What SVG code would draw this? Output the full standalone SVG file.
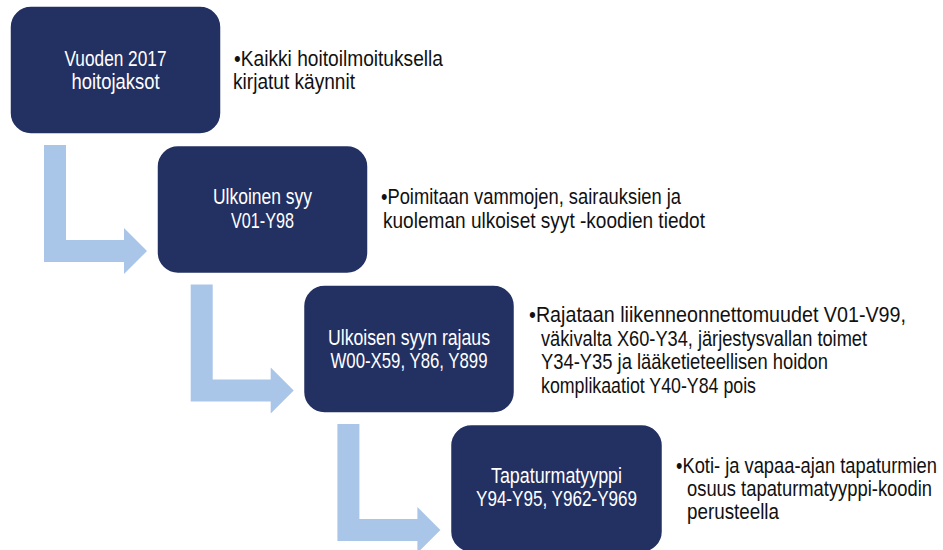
<svg xmlns="http://www.w3.org/2000/svg" width="943" height="550" viewBox="0 0 943 550">
<defs>
<style>
.box{fill:#233062;stroke:#ffffff;stroke-width:1.5}
.arr{fill:#A9C5E8}
text{font-family:"Liberation Sans",Arial,sans-serif;font-size:22.5px}
.bt{fill:#ffffff;text-anchor:middle}
.rt{fill:#111111}
</style>
<path id="arrowShape" d="M44,145 H66 V240 H124 V228 L147,251 L124,274 V262 H44 Z"/>
</defs>
<g id="connectors">
<use href="#arrowShape" class="arr"/>
<use href="#arrowShape" class="arr" transform="translate(146.7,139.5)"/>
<use href="#arrowShape" class="arr" transform="translate(293.4,279)"/>
</g>
<g id="node1">
<rect class="box" x="10" y="6" width="211" height="128" rx="21"/>
<text class="bt" x="115.5" y="66" textLength="102" lengthAdjust="spacingAndGlyphs">Vuoden 2017</text>
<text class="bt" x="115.5" y="89" textLength="88" lengthAdjust="spacingAndGlyphs">hoitojaksot</text>
</g>
<g id="note1">
<text class="rt" x="234" y="66" textLength="209" lengthAdjust="spacingAndGlyphs">•Kaikki hoitoilmoituksella</text>
<text class="rt" x="233" y="89" textLength="122" lengthAdjust="spacingAndGlyphs">kirjatut käynnit</text>
</g>
<g id="node2">
<rect class="box" x="157" y="145.5" width="211" height="128" rx="21"/>
<text class="bt" x="262.5" y="204" textLength="99" lengthAdjust="spacingAndGlyphs">Ulkoinen syy</text>
<text class="bt" x="262.5" y="228" textLength="63" lengthAdjust="spacingAndGlyphs">V01-Y98</text>
</g>
<g id="note2">
<text class="rt" x="381" y="204" textLength="300" lengthAdjust="spacingAndGlyphs">•Poimitaan vammojen, sairauksien ja</text>
<text class="rt" x="383" y="228" textLength="322" lengthAdjust="spacingAndGlyphs">kuoleman ulkoiset syyt -koodien tiedot</text>
</g>
<g id="node3">
<rect class="box" x="303.5" y="285" width="211" height="128" rx="21"/>
<text class="bt" x="409" y="345" textLength="162" lengthAdjust="spacingAndGlyphs">Ulkoisen syyn rajaus</text>
<text class="bt" x="409" y="368" textLength="157" lengthAdjust="spacingAndGlyphs">W00-X59, Y86, Y899</text>
</g>
<g id="note3">
<text class="rt" x="529" y="322" textLength="377" lengthAdjust="spacingAndGlyphs">•Rajataan liikenneonnettomuudet V01-V99,</text>
<text class="rt" x="541" y="345.5" textLength="326" lengthAdjust="spacingAndGlyphs">väkivalta X60-Y34, järjestysvallan toimet</text>
<text class="rt" x="541" y="369" textLength="287" lengthAdjust="spacingAndGlyphs">Y34-Y35 ja lääketieteellisen hoidon</text>
<text class="rt" x="541" y="392.5" textLength="215" lengthAdjust="spacingAndGlyphs">komplikaatiot Y40-Y84 pois</text>
</g>
<g id="node4">
<rect class="box" x="450.5" y="424.5" width="212" height="128" rx="21"/>
<text class="bt" x="556.5" y="483" textLength="131" lengthAdjust="spacingAndGlyphs">Tapaturmatyyppi</text>
<text class="bt" x="556.5" y="506" textLength="161" lengthAdjust="spacingAndGlyphs">Y94-Y95, Y962-Y969</text>
</g>
<g id="note4">
<text class="rt" x="676" y="473" textLength="261" lengthAdjust="spacingAndGlyphs">•Koti- ja vapaa-ajan tapaturmien</text>
<text class="rt" x="687" y="496" textLength="245" lengthAdjust="spacingAndGlyphs">osuus tapaturmatyyppi-koodin</text>
<text class="rt" x="687" y="519" textLength="92" lengthAdjust="spacingAndGlyphs">perusteella</text>
</g>
</svg>
